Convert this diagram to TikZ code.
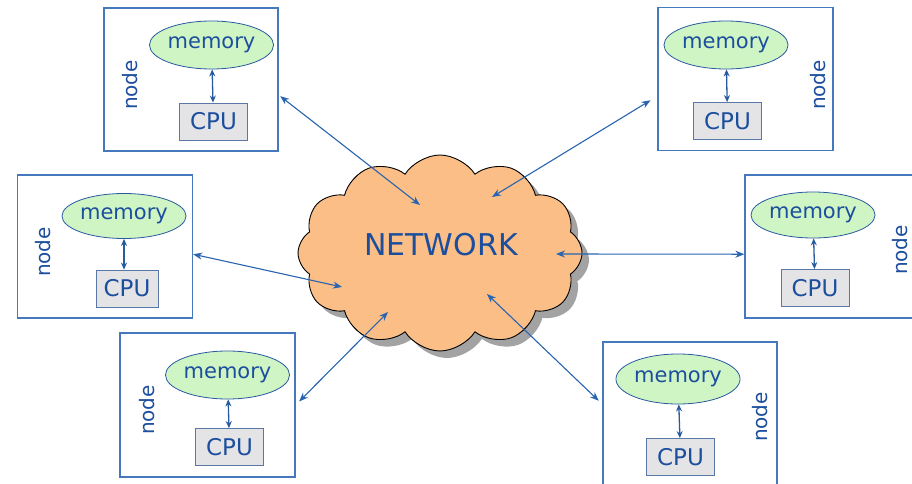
\documentclass[tikz,border=0pt]{standalone}
\usepackage{fontspec}
\setmainfont{DejaVu Sans}
\usetikzlibrary{shapes.geometric,shapes.symbols,arrows.meta,shadows}
\definecolor{txtblue}{RGB}{28,78,158}
\definecolor{frameblue}{RGB}{70,120,190}
\definecolor{linkblue}{RGB}{40,100,175}
\definecolor{ellblue}{RGB}{40,90,160}
\definecolor{memgreen}{RGB}{208,245,196}
\definecolor{cpugray}{RGB}{228,228,230}
\definecolor{cpuborder}{RGB}{90,120,165}
\definecolor{cloudorange}{RGB}{251,190,135}
\begin{document}
\begin{tikzpicture}[x=1pt,y=-1pt,
  frame/.style={draw=frameblue, line width=1.3pt, fill=white, minimum width=174pt, minimum height=143pt, inner sep=0pt},
  mem/.style={ellipse, draw=ellblue, fill=memgreen, line width=0.8pt, minimum width=118pt, minimum height=48pt, inner sep=0pt, text=txtblue, font=\fontsize{21}{24}\selectfont},
  cpu/.style={rectangle, draw=cpuborder, fill=cpugray, line width=0.8pt, minimum width=68pt, minimum height=37pt, inner sep=0pt, text=txtblue, font=\fontsize{23}{26}\selectfont},
  lbl/.style={rotate=90, text=txtblue, font=\fontsize{20}{24}\selectfont, inner sep=0pt},
  link/.style={draw=linkblue, line width=1.1pt, {Stealth[length=9pt,width=7pt]}-{Stealth[length=9pt,width=7pt]}},
  inlink/.style={draw=ellblue, line width=1.3pt, {Stealth[length=7pt,width=6pt]}-{Stealth[length=7pt,width=6pt]}}
]
\useasboundingbox (0,0) rectangle (912,484);
\fill[white] (0,0) rectangle (912,484);

% cloud
\node[cloud, cloud puffs=12, cloud puff arc=115, draw=black, line width=0.9pt, fill=cloudorange,
      drop shadow={shadow xshift=7pt, shadow yshift=-7pt, fill=black!60, opacity=0.6},
      minimum width=284pt, minimum height=196pt, inner sep=0pt] (net) at (440,253) {};
\node[text=txtblue, font=\fontsize{30}{34}\selectfont] (nettxt) at (441,245) {NETWORK};

% frames
\node[frame] (f1) at (191,79.5) {};
\node[frame, minimum width=175pt] (f2) at (745.5,79) {};
\node[frame, minimum width=175pt] (f3) at (105,246.5) {};
\node[frame, minimum width=175pt] (f4) at (832.5,246.5) {};
\node[frame, minimum width=175pt, minimum height=144pt] (f5) at (207.5,405) {};
\node[frame, minimum height=146pt] (f6) at (690,415) {};

% frame 1
\node[mem] (m1) at (211.5,45) {memory};
\node[cpu] (p1) at (213.5,121.5) {CPU};
\node[lbl] (l1) at (130,85) {node};
\draw[inlink] (m1) -- (p1);
% frame 2
\node[mem] (m2) at (726,45) {memory};
\node[cpu] (p2) at (727.5,121) {CPU};
\node[lbl] (l2) at (818,85) {node};
\draw[inlink] (m2) -- (p2);
% frame 3
\node[mem, minimum height=45pt] (m3) at (124,216) {memory};
\node[cpu, minimum width=62pt] (p3) at (127,288.5) {CPU};
\node[lbl] (l3) at (43,252) {node};
\draw[inlink] (m3) -- (m3 |- p3.north);
% frame 4
\node[mem, minimum height=46pt] (m4) at (813,215) {memory};
\node[cpu] (p4) at (815,288) {CPU};
\node[lbl] (l4) at (900,250) {node};
\draw[inlink] (m4) -- (p4);
% frame 5
\node[mem] (m5) at (227.5,375) {memory};
\node[cpu] (p5) at (229.5,447) {CPU};
\node[lbl] (l5) at (147,410) {node};
\draw[inlink] (m5) -- (p5);
% frame 6
\node[mem, minimum height=50pt] (m6) at (678,379) {memory};
\node[cpu] (p6) at (680.5,457) {CPU};
\node[lbl] (l6) at (760,417) {node};
\draw[inlink] (m6) -- (p6);

% points inside the cloud
\coordinate (c1) at (420,205);
\coordinate (c2) at (492,197);
\coordinate (c3) at (342,287);
\coordinate (c4) at (556,254);
\coordinate (c5) at (388,312);
\coordinate (c6) at (487,294);

% connectors
\draw[link, shorten <=2pt] (f1.-10) -- (c1);
\draw[link, shorten <=8pt] (f2.191) -- (c2);
\draw[link] (f3.-5) -- (c3);
\draw[link] (f4.185) -- (c4);
\draw[link, shorten <=5pt] (f5.east) -- (c5);
\draw[link, shorten <=5pt] (f6.173) -- (c6);
\end{tikzpicture}
\end{document}
